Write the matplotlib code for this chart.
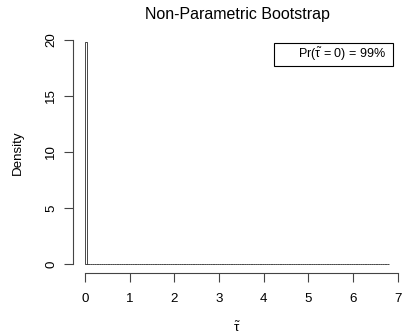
import matplotlib
matplotlib.use("Agg")
import matplotlib.pyplot as plt
from matplotlib.patches import Rectangle
import numpy as np

plt.rcParams["font.family"] = ["Liberation Sans", "DejaVu Sans"]
plt.rcParams["mathtext.fontset"] = "custom"
plt.rcParams["mathtext.rm"] = "Liberation Sans"
plt.rcParams["mathtext.it"] = "Liberation Sans"
plt.rcParams["mathtext.bf"] = "Liberation Sans:bold"

# histogram (density scale), bins of width 0.05 from 0 to 6.8
bin_width = 0.05
n_bins = 136
first_bin_density = 19.8
# sparse tail: (bin index, density) for the few non-empty bins after the first
tail_bins = [10, 24, 37, 52, 58, 66, 79, 93, 108, 121]
tail_density = [0.02, 0.02, 0.02, 0.02, 0.02, 0.02, 0.02, 0.02, 0.02, 0.02]

x_ticks = [0, 1, 2, 3, 4, 5, 6, 7]
y_ticks = [0, 5, 10, 15, 20]

density = np.zeros(n_bins)
density[0] = first_bin_density
density[tail_bins] = tail_density
lefts = np.arange(n_bins) * bin_width

W, H = 403, 336
fig = plt.figure(figsize=(W / 100, H / 100), dpi=100)
# plot region in pixels: left 73, right 401, top 33, bottom 273
ax = fig.add_axes([73 / W, 1 - 273 / H, (401 - 73) / W, (273 - 33) / H])

ax.bar(lefts, density, width=bin_width, align="edge",
       facecolor="white", edgecolor="black", linewidth=0.5)

ax.set_xlim(-0.272, 7.072)
ax.set_ylim(-0.792, 20.592)

for side in ["top", "right"]:
    ax.spines[side].set_visible(False)
ax.spines["left"].set_bounds(0, 20)
ax.spines["bottom"].set_bounds(0, 7)
ax.spines["left"].set_color("#444444")
ax.spines["bottom"].set_color("#444444")
ax.spines["left"].set_linewidth(0.8)
ax.spines["bottom"].set_linewidth(0.8)

ax.set_xticks(x_ticks)
ax.set_yticks(y_ticks)
ax.set_yticklabels([str(v) for v in y_ticks], rotation=90, va="center")
ax.tick_params(axis="both", length=6.5, width=0.8, color="#444444",
               labelsize=9.6)
ax.tick_params(axis="x", pad=8)
ax.tick_params(axis="y", pad=5)

ax.set_title("Non-Parametric Bootstrap", fontsize=11.5, pad=10)
ax.set_xlabel(r"$\tilde{\tau}$", fontsize=9.6, labelpad=11)
ax.set_ylabel("Density", fontsize=9.6, labelpad=15)

ax.add_patch(Rectangle((0.6128, 0.8625), 0.3628, 0.0958, transform=ax.transAxes,
                       facecolor="white", edgecolor="black", linewidth=0.8,
                       clip_on=False))
ax.text(0.820, 0.9125, r"Pr$(\tilde{\tau}$ = 0) = 99%", transform=ax.transAxes,
        ha="center", va="center", fontsize=9)

fig.savefig("out.png", dpi=100)
